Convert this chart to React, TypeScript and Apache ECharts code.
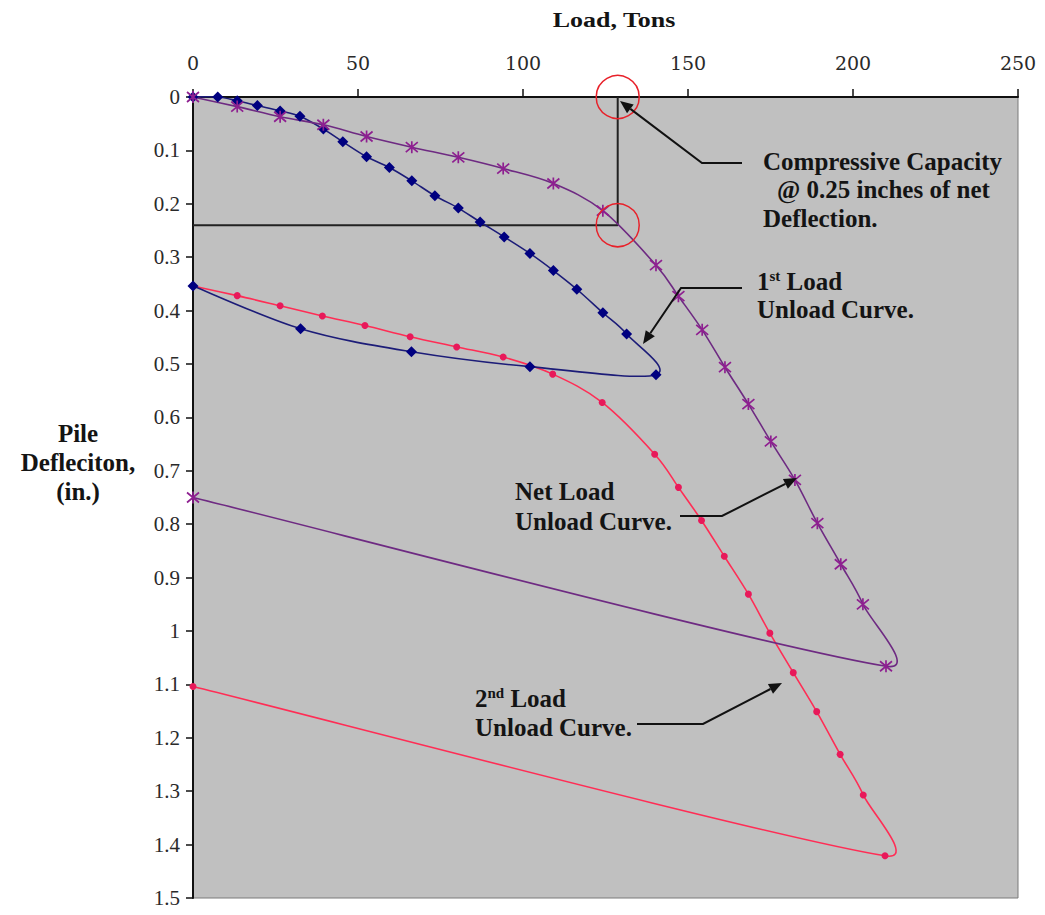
import React, { useEffect, useRef } from "react";
import * as echarts from "echarts";

// ---- Data (Load in tons, deflection in inches) ----
const firstLoadTons = [0, 7.5, 13.4, 19.5, 26.4, 32.4, 39.5, 45.4, 52.6, 59.5, 66.3, 73.3, 80.4, 87.0, 94.3, 102.1, 109.2, 116.3, 124.2, 131.4, 140.3, 102.1, 66.2, 32.6, 0];
const firstLoadDefl = [0, 0, 0.007, 0.016, 0.026, 0.036, 0.06, 0.084, 0.112, 0.132, 0.157, 0.185, 0.208, 0.234, 0.262, 0.293, 0.325, 0.36, 0.404, 0.444, 0.52, 0.505, 0.477, 0.434, 0.354];

const netLoadTons = [0, 13.4, 26.4, 39.5, 52.6, 66.3, 80.4, 94.0, 109.2, 124.2, 140.3, 147.1, 154.3, 161.2, 168.3, 175.1, 182.4, 189.2, 196.3, 203.0, 210.0, 0];
const netLoadDefl = [0, 0.018, 0.037, 0.052, 0.074, 0.094, 0.113, 0.134, 0.162, 0.213, 0.315, 0.373, 0.436, 0.506, 0.575, 0.645, 0.717, 0.798, 0.875, 0.95, 1.066, 0.75];

const secondLoadTons = [0, 13.4, 26.4, 39.2, 52.1, 65.8, 79.9, 94.0, 109.0, 124.0, 139.9, 147.1, 154.1, 161.0, 168.3, 174.8, 181.9, 189.0, 196.1, 203.1, 209.7, 0];
const secondLoadDefl = [0.354, 0.372, 0.391, 0.41, 0.428, 0.449, 0.468, 0.487, 0.519, 0.572, 0.669, 0.731, 0.793, 0.86, 0.931, 1.004, 1.078, 1.151, 1.231, 1.307, 1.421, 1.104];

// Reference lines for compressive capacity
const capacityLineTons = [0, 128.7, 128.7];
const capacityLineDefl = [0.24, 0.24, 0];
const circleTons = [128.7, 128.7];
const circleDefl = [0, 0.24];

const xTicks = { min: 0, max: 250, interval: 50 };
const yTicks = { min: 0, max: 1.5, interval: 0.1 };

const zip = (xs: number[], ys: number[]) => xs.map((x, i) => [x, ys[i]]);

const SERIF = '"Liberation Serif", "Times New Roman", serif';
const STAR = "path://M0,0L10,10M10,0L0,10M5,-1L5,11";
const INK = "#141414";

// Excel-like smoothed line: each data item draws the cubic segment ending at it,
// with tangents taken from its neighbours (converted through the axes by api.coord).
function smoothCurve(name: string, xs: number[], ys: number[], color: string, z: number) {
  return {
    name: name + " curve",
    type: "custom",
    coordinateSystem: "cartesian2d",
    data: zip(xs, ys),
    z,
    silent: true,
    renderItem: (params: any, api: any) => {
      const i = params.dataIndexInside;
      const n = params.dataInsideLength;
      if (i === 0) return { type: "group", children: [] };
      const pt = (k: number) => {
        const kk = Math.max(0, Math.min(n - 1, k));
        return api.coord([api.value(0, kk), api.value(1, kk)]);
      };
      const P0 = pt(i - 2);
      const P1 = pt(i - 1);
      const P2 = pt(i);
      const P3 = pt(i + 1);
      const d12 = Math.hypot(P2[0] - P1[0], P2[1] - P1[1]);
      const tangent = (a: number[], b: number[]) => {
        let dx = (b[0] - a[0]) / 6;
        let dy = (b[1] - a[1]) / 6;
        const l = Math.hypot(dx, dy);
        const lim = d12 / 2;
        if (l > lim && l > 0) {
          dx *= lim / l;
          dy *= lim / l;
        }
        return [dx, dy];
      };
      const t1 = tangent(P0, P2);
      const t2 = tangent(P1, P3);
      return {
        type: "bezierCurve",
        shape: {
          x1: P1[0],
          y1: P1[1],
          x2: P2[0],
          y2: P2[1],
          cpx1: P1[0] + t1[0],
          cpy1: P1[1] + t1[1],
          cpx2: P2[0] - t2[0],
          cpy2: P2[1] - t2[1],
        },
        style: { stroke: color, lineWidth: 1.6, fill: null },
      };
    },
  };
}

function arrow(points: number[][], color = "#111") {
  const n = points.length;
  const T = points[n - 1];
  const P = points[n - 2];
  const dx = T[0] - P[0];
  const dy = T[1] - P[1];
  const len = Math.sqrt(dx * dx + dy * dy);
  const ux = dx / len;
  const uy = dy / len;
  const L = 13;
  const w = 5.5;
  const bx = T[0] - ux * L;
  const by = T[1] - uy * L;
  const line = points.slice(0, n - 1).concat([[bx, by]]);
  return [
    { type: "polyline", shape: { points: line }, style: { stroke: color, lineWidth: 2, fill: null }, z: 100 },
    {
      type: "polygon",
      shape: { points: [[T[0], T[1]], [bx - uy * w, by + ux * w], [bx + uy * w, by - ux * w]] },
      style: { fill: color },
      z: 100,
    },
  ];
}

const ANN_SIZE = 25;

function label(text: string, x: number, y: number, rich?: any) {
  return {
    type: "text",
    x,
    y,
    z: 100,
    style: {
      text,
      fill: INK,
      fontFamily: SERIF,
      fontWeight: "bold",
      fontSize: ANN_SIZE,
      verticalAlign: "middle",
      align: "left",
      rich,
    },
  };
}

const supRich = {
  n: { fontFamily: SERIF, fontWeight: "bold", fontSize: ANN_SIZE, color: INK },
  s: { fontFamily: SERIF, fontWeight: "bold", fontSize: 15, color: INK, verticalAlign: "top", padding: [0, 0, 11, 0] },
};

export default function App() {
  const ref = useRef<HTMLDivElement>(null);
  useEffect(() => {
    if (!ref.current) return;
    const chart = echarts.init(ref.current, undefined, { renderer: "svg" });
    const option: any = {
      animation: false,
      backgroundColor: "#ffffff",
      grid: {
        left: 193,
        right: 27,
        top: 97,
        bottom: 17,
        show: true,
        backgroundColor: "#c0c0c0",
        borderColor: "#7a7a7a",
        borderWidth: 1,
      },
      xAxis: {
        type: "value",
        position: "top",
        min: xTicks.min,
        max: xTicks.max,
        interval: xTicks.interval,
        axisLine: { show: true, lineStyle: { color: "#111", width: 2 } },
        axisTick: { show: true, length: 8, lineStyle: { color: "#111", width: 1.5 } },
        axisLabel: { margin: 25, fontFamily: '"DejaVu Serif", serif', fontSize: 19, color: "#2a2a2a" },
        splitLine: { show: false },
      },
      yAxis: {
        type: "value",
        inverse: true,
        min: yTicks.min,
        max: yTicks.max,
        interval: yTicks.interval,
        axisLine: { show: true, lineStyle: { color: "#111", width: 2 } },
        axisTick: { show: true, length: 7, lineStyle: { color: "#111", width: 1.5 } },
        axisLabel: { margin: 13, fontFamily: SERIF, fontSize: 21, color: "#2a2a2a" },
        splitLine: { show: false },
      },
      series: [
        {
          name: "Capacity reference",
          type: "line",
          data: zip(capacityLineTons, capacityLineDefl),
          symbol: "none",
          lineStyle: { color: "#222", width: 2 },
          z: 1,
        },
        smoothCurve("2nd Load", secondLoadTons, secondLoadDefl, "#ff2d55", 2),
        smoothCurve("1st Load", firstLoadTons, firstLoadDefl, "#1c1c78", 3),
        smoothCurve("Net Load", netLoadTons, netLoadDefl, "#6e2a82", 4),
        {
          name: "2nd Load",
          type: "scatter",
          data: zip(secondLoadTons, secondLoadDefl),
          symbol: "circle",
          symbolSize: 7,
          itemStyle: { color: "#e8195a", opacity: 1 },
          z: 5,
        },
        {
          name: "1st Load",
          type: "scatter",
          data: zip(firstLoadTons, firstLoadDefl),
          symbol: "diamond",
          symbolSize: 11,
          itemStyle: { color: "#000080", opacity: 1 },
          z: 6,
        },
        {
          name: "Net Load",
          type: "scatter",
          data: zip(netLoadTons, netLoadDefl),
          symbol: STAR,
          symbolSize: 12,
          itemStyle: { color: "#8e1f90", borderColor: "#8e1f90", borderWidth: 1.7, opacity: 1 },
          z: 7,
        },
        {
          name: "Capacity markers",
          type: "scatter",
          data: zip(circleTons, circleDefl),
          symbol: "circle",
          symbolSize: 43,
          clip: false,
          itemStyle: { color: "rgba(0,0,0,0)", borderColor: "#e8212a", borderWidth: 1.5, opacity: 1 },
          z: 8,
        },
      ],
      graphic: [
        {
          type: "text",
          x: 614,
          y: 20,
          scaleX: 1.18,
          z: 100,
          style: {
            text: "Load, Tons",
            fontFamily: SERIF,
            fontWeight: "bold",
            fontSize: 22,
            fill: INK,
            align: "center",
            verticalAlign: "middle",
          },
        },
        {
          type: "text",
          x: 78,
          y: 462,
          z: 100,
          style: {
            text: "Pile\nDefleciton,\n(in.)",
            fontFamily: SERIF,
            fontWeight: "bold",
            fontSize: 25,
            lineHeight: 29,
            fill: INK,
            align: "center",
            verticalAlign: "middle",
          },
        },
        label("Compressive Capacity", 763, 161),
        label("@ 0.25 inches of net", 777, 189),
        label("Deflection.", 763, 218),
        label("{n|1}{s|st}{n| Load}", 757, 281, supRich),
        label("Unload Curve.", 757, 309),
        label("Net Load", 515, 491),
        label("Unload Curve.", 515, 521),
        label("{n|2}{s|nd}{n| Load}", 475, 698, supRich),
        label("Unload Curve.", 475, 727),
        ...arrow([[742, 163], [702, 163], [620, 101]]),
        ...arrow([[742, 288], [681, 288], [643, 344]]),
        ...arrow([[680, 516], [722, 516], [797, 478]]),
        ...arrow([[637, 724], [703, 724], [782, 683]]),
      ],
    };
    chart.setOption(option);
    return () => chart.dispose();
  }, []);
  return <div ref={ref} style={{ position: "absolute", left: 0, top: 0, width: 1045, height: 915 }} />;
}
